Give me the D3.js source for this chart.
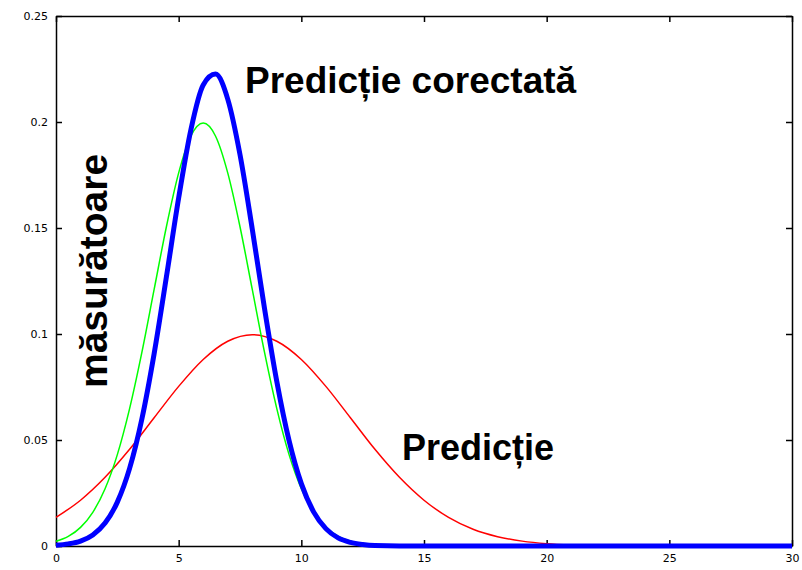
<!DOCTYPE html>
<html>
<head>
<meta charset="utf-8">
<script src="https://cdn.jsdelivr.net/npm/d3@7"></script>
<style>
  body { margin: 0; background: #fff; }
  .axis text { font-family: "DejaVu Sans", sans-serif; font-size: 11px; fill: #000; }
  .axis path, .axis line { stroke: #000; stroke-width: 1.5; }
  .label { font-family: "Liberation Sans", Arial, sans-serif; font-weight: bold; font-size: 36px; fill: #000; }
</style>
</head>
<body>
<div id="chart"></div>
<script>
// valori
var xTicks = [0, 5, 10, 15, 20, 25, 30];
var yTicks = [0, 0.05, 0.1, 0.15, 0.2, 0.25];

// Predicție (rosu)
var predX = [0, 1, 2, 3, 4, 5, 6, 7, 8, 9, 10, 11, 12, 13, 14, 15, 16, 17, 18, 19, 20, 21, 22, 25, 30];
var predY = [0.0135, 0.0216, 0.0324, 0.0456, 0.0605, 0.0753, 0.0880, 0.0966, 0.0997, 0.0966, 0.0880, 0.0753,
             0.0605, 0.0456, 0.0324, 0.0216, 0.0135, 0.0079, 0.0044, 0.0023, 0.0011, 0.0005, 0.0002, 0, 0];

// măsurătoare (verde)
var masX = [0, 0.5, 1, 1.5, 2, 2.5, 3, 3.5, 4, 4.5, 5, 5.5, 6, 6.5, 7, 7.5, 8, 8.5, 9, 9.5, 10, 10.5, 11, 11.5, 12, 12.5, 13, 14, 15, 20, 30];
var masY = [0.0022, 0.0045, 0.0088, 0.0159, 0.0270, 0.0431, 0.0648, 0.0913, 0.1210, 0.1506, 0.1760, 0.1934,
            0.1995, 0.1934, 0.1760, 0.1506, 0.1210, 0.0913, 0.0648, 0.0431, 0.0270, 0.0159, 0.0088, 0.0045,
            0.0022, 0.0010, 0.0004, 0.0001, 0, 0, 0];

// Predicție corectată (albastru)
var corX = [0, 0.5, 1, 1.5, 2, 2.5, 3, 3.5, 4, 4.5, 5, 5.5, 6, 6.5, 7, 7.5, 8, 8.5, 9, 9.5, 10, 10.5, 11, 11.5, 12, 12.5, 13, 14, 20, 30];
var corY = [0.0004, 0.0010, 0.0023, 0.0052, 0.0108, 0.0207, 0.0366, 0.0599, 0.0907, 0.1269, 0.1642, 0.1965,
            0.2175, 0.2226, 0.2108, 0.1846, 0.1495, 0.1120, 0.0776, 0.0497, 0.0294, 0.0161, 0.0082, 0.0038,
            0.0017, 0.0007, 0.0002, 0, 0, 0];

var width = 802;
var height = 570;
var margin = {top: 16, right: 10, bottom: 24, left: 56};

var svg = d3.select("#chart").append("svg")
  .attr("width", width)
  .attr("height", height);

var x = d3.scaleLinear().domain([0, 30]).range([margin.left, width - margin.right]);
var y = d3.scaleLinear().domain([0, 0.25]).range([height - margin.bottom, margin.top]);

var fmtY = function(d) { return d === 0 ? "0" : String(d); };

// rama cu tick-uri spre interior pe toate laturile
svg.append("g")
  .attr("class", "axis")
  .attr("transform", "translate(0," + y(0) + ")")
  .call(d3.axisBottom(x).tickValues(xTicks).tickSize(-6).tickPadding(8).tickSizeOuter(0));

svg.append("g")
  .attr("class", "axis")
  .attr("transform", "translate(0," + y(0.25) + ")")
  .call(d3.axisTop(x).tickValues(xTicks).tickSize(-6).tickSizeOuter(0).tickFormat(""));

svg.append("g")
  .attr("class", "axis")
  .attr("transform", "translate(" + x(0) + ",0)")
  .call(d3.axisLeft(y).tickValues(yTicks).tickSize(-6).tickPadding(8).tickSizeOuter(0).tickFormat(fmtY));

svg.append("g")
  .attr("class", "axis")
  .attr("transform", "translate(" + x(30) + ",0)")
  .call(d3.axisRight(y).tickValues(yTicks).tickSize(-6).tickSizeOuter(0).tickFormat(""));

var line = d3.line()
  .x(function(d) { return x(d[0]); })
  .y(function(d) { return y(d[1]); })
  .curve(d3.curveMonotoneX);

var plot = svg.append("g");

plot.append("path")
  .datum(d3.zip(predX, predY))
  .attr("d", line)
  .attr("fill", "none")
  .attr("stroke", "#ff0000")
  .attr("stroke-width", 1.5);

plot.append("path")
  .datum(d3.zip(masX, masY))
  .attr("d", line)
  .attr("fill", "none")
  .attr("stroke", "#00ff00")
  .attr("stroke-width", 1.5);

plot.append("path")
  .datum(d3.zip(corX, corY))
  .attr("d", line)
  .attr("fill", "none")
  .attr("stroke", "#0000ff")
  .attr("stroke-width", 5)
  .attr("stroke-linejoin", "round");

svg.append("text")
  .attr("class", "label")
  .attr("x", 245)
  .attr("y", 93)
  .style("font-size", "37px")
  .text("Predicție corectată");

svg.append("text")
  .attr("class", "label")
  .attr("x", 402)
  .attr("y", 460)
  .text("Predicție");

svg.append("text")
  .attr("class", "label")
  .attr("transform", "translate(107,388) rotate(-90)")
  .style("font-size", "39px")
  .text("măsurătoare");
</script>
</body>
</html>
